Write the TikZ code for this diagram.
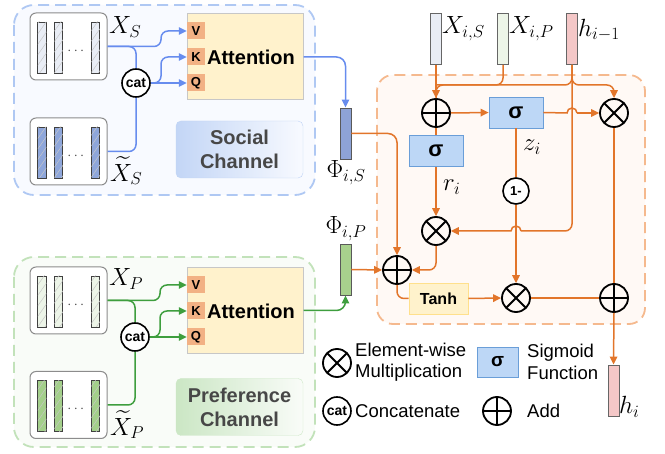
\documentclass[tikz,border=0pt]{standalone}
\usepackage{amsmath}
\usepackage{fontspec}
\setsansfont{Liberation Sans}
\usetikzlibrary{positioning,arrows.meta,calc,patterns.meta}

\definecolor{socdash}{HTML}{AFC8F3}
\definecolor{socbg}{HTML}{F8FAFF}
\definecolor{prefdash}{HTML}{C2E2BA}
\definecolor{prefbg}{HTML}{F9FCF8}
\definecolor{grudash}{HTML}{F5B98E}
\definecolor{grubg}{HTML}{FFF9F5}
\definecolor{socln}{HTML}{678CEE}
\definecolor{prefln}{HTML}{3E9E3E}
\definecolor{gruln}{HTML}{E2752A}
\definecolor{attfill}{HTML}{FFF2CC}
\definecolor{vkqfill}{HTML}{F2B184}
\definecolor{sigfill}{HTML}{BDD7F6}
\definecolor{sigdraw}{HTML}{6A9ED8}
\definecolor{tanhdraw}{HTML}{FFE08C}
\definecolor{barS}{HTML}{E9EDF5}
\definecolor{barSt}{HTML}{8EA6DA}
\definecolor{barP}{HTML}{EDF5E8}
\definecolor{barPt}{HTML}{A3CF8A}
\definecolor{phiSfill}{HTML}{8EA3D6}
\definecolor{phiPfill}{HTML}{A8D18D}
\definecolor{hfill}{HTML}{F4C7C7}

\begin{document}
\begin{tikzpicture}[x=1pt, y=-1pt,
  >={Triangle[length=8pt,width=7.5pt]},
  panel/.style={line width=1.8pt, dash pattern=on 11pt off 6pt, rounded corners=20pt},
  xbox/.style={draw=black!45, line width=1pt, rounded corners=6pt, fill=white, minimum width=77pt, minimum height=67pt},
  fbar/.style={draw=black!75, line width=0.8pt, minimum width=8.5pt, minimum height=51pt, inner sep=0pt, fill=#1,
    postaction={pattern={Lines[angle=55,distance=6pt,line width=0.5pt]}, pattern color=black!22}},
  vbar/.style={draw=black!70, line width=0.9pt, minimum width=11pt, minimum height=51pt, inner sep=0pt, fill=#1},
  dots/.style={font=\fontsize{14}{14}\selectfont, text=black!70, inner sep=0pt},
  mathlbl/.style={font=\fontsize{26}{30}\selectfont, inner sep=0pt},
  attbox/.style={draw=black!22, line width=1pt, fill=attfill, minimum width=116pt, minimum height=86pt},
  atttext/.style={font=\sffamily\bfseries\fontsize{20}{20}\selectfont, inner sep=0pt},
  vkq/.style={fill=vkqfill, minimum width=18pt, minimum height=17pt, inner sep=0pt, font=\sffamily\bfseries\fontsize{13}{13}\selectfont},
  catnode/.style={circle, draw, fill=white, line width=1.6pt, minimum size=28pt, inner sep=0pt, font=\sffamily\bfseries\fontsize{14}{14}\selectfont},
  chan/.style={rounded corners=5pt, minimum width=127pt, minimum height=57pt, align=center, text=black!72,
    font=\sffamily\bfseries\fontsize{20}{24}\selectfont},
  sline/.style={draw=socln, line width=1.5pt, rounded corners=7pt},
  pline/.style={draw=prefln, line width=1.5pt, rounded corners=7pt},
  gline/.style={draw=gruln, line width=1.5pt, rounded corners=7pt},
  opplus/.style={circle, draw, line width=1.8pt, minimum size=28pt, inner sep=0pt,
    path picture={\draw[line width=1.8pt] (path picture bounding box.north) -- (path picture bounding box.south)
      (path picture bounding box.west) -- (path picture bounding box.east);}},
  opmult/.style={circle, draw, line width=1.8pt, minimum size=28pt, inner sep=0pt,
    path picture={\draw[line width=1.8pt] (path picture bounding box.north west) -- (path picture bounding box.south east)
      (path picture bounding box.north east) -- (path picture bounding box.south west);}},
  onenode/.style={circle, draw, fill=white, line width=1.6pt, minimum size=26pt, inner sep=0pt, font=\sffamily\bfseries\fontsize{13}{13}\selectfont},
  sigbox/.style={draw=sigdraw, fill=sigfill, line width=0.8pt, minimum width=54pt, minimum height=31pt, inner sep=0pt,
    font=\sffamily\bfseries\fontsize{22}{22}\selectfont},
  tanhbox/.style={draw=tanhdraw, fill=attfill, line width=0.8pt, minimum width=59pt, minimum height=31pt, inner sep=0pt,
    font=\sffamily\bfseries\fontsize{16}{16}\selectfont},
  legtext/.style={anchor=west, align=left, inner sep=0pt, font=\sffamily\fontsize{18.5}{21.5}\selectfont}
]
\useasboundingbox (0,0) rectangle (665,454);

% social channel
\draw[panel, draw=socdash, fill=socbg] (14,5) rectangle (315,195);
\node[xbox] (xS) at (68.5,46.5) {};
\node[xbox] (xtS) at (68.5,151.5) {};
\foreach \x/\k in {42/1,58.5/2,95.5/3} {
  \node[fbar=barS] (xSb\k) at (\x,47.5) {};
  \node[fbar=barSt] (xtSb\k) at (\x,152.5) {};
}
\node[dots] (xSd) at (77,51) {$\cdots$};
\node[dots] (xtSd) at (77,156) {$\cdots$};
\node[mathlbl, anchor=west] (xSl) at (109,27) {$X_S$};
\node[mathlbl, anchor=west] (xtSl) at (110,171) {$\widetilde{X}_S$};
\node[catnode] (catS) at (136,83) {cat};
\node[attbox] (attS) at (245,57) {};
\node[atttext] (attSt) at (251,57) {Attention};
\node[vkq] (vS) at (196,31) {V};
\node[vkq] (kS) at (196,57) {K};
\node[vkq] (qS) at (196,83) {Q};
\node[chan, draw=socdash!80, left color=socdash!75, right color=socbg] (chS) at (239.5,149.5) {Social\\Channel};

\draw[sline] (xS.east) -| (catS.north);
\draw[sline, ->] (xS.east) -- (161,46.5) |- (vS.west);
\draw[sline, ->] (catS.east) -- (qS.west);
\draw[sline, ->] (catS.east) -- (161,83) |- (kS.west);
\draw[sline] (xtS.east) -| (catS.south);

% preference channel
\draw[panel, draw=prefdash, fill=prefbg] (14,257) rectangle (315,447);
\node[xbox] (xP) at (68.5,300.5) {};
\node[xbox] (xtP) at (68.5,405) {};
\foreach \x/\k in {42/1,58.5/2,95.5/3} {
  \node[fbar=barP] (xPb\k) at (\x,301.5) {};
  \node[fbar=barPt] (xtPb\k) at (\x,406) {};
}
\node[dots] (xPd) at (77,305) {$\cdots$};
\node[dots] (xtPd) at (77,409.5) {$\cdots$};
\node[mathlbl, anchor=west] (xPl) at (109,279) {$X_P$};
\node[mathlbl, anchor=west] (xtPl) at (110,425) {$\widetilde{X}_P$};
\node[catnode] (catP) at (135,337) {cat};
\node[attbox] (attP) at (245,310.5) {};
\node[atttext] (attPt) at (251,311) {Attention};
\node[vkq] (vP) at (196,285) {V};
\node[vkq] (kP) at (196,311) {K};
\node[vkq] (qP) at (196,337) {Q};
\node[chan, draw=prefdash!80, left color=prefdash!85, right color=prefbg] (chP) at (239.5,407) {Preference\\Channel};

\draw[pline] (xP.east) -| (catP.north);
\draw[pline, ->] (xP.east) -- (160,300.5) |- (vP.west);
\draw[pline, ->] (catP.east) -- (qP.west);
\draw[pline, ->] (catP.east) -- (160,337) |- (kP.west);
\draw[pline] (xtP.east) -| (catP.south);

% channel outputs
\node[vbar=phiSfill, draw=black!65] (phiS) at (345.5,133.5) {};
\node[vbar=phiPfill, draw=black!65] (phiP) at (345.5,269.5) {};
\node[mathlbl] (phiSl) at (346,173) {$\Phi_{i,S}$};
\node[mathlbl] (phiPl) at (346,229) {$\Phi_{i,P}$};
\draw[sline, ->, rounded corners=9pt] (attS.east) -| (phiS.north);
\draw[pline, ->, rounded corners=9pt] (attP.east) -| (phiP.south);

% gated unit
\draw[panel, draw=grudash, fill=grubg, rounded corners=16pt] (377,75) rectangle (645,324);
\node[vbar=barS, draw=black!60] (xiS) at (436,39) {};
\node[vbar=barP, draw=black!60] (xiP) at (503,39) {};
\node[vbar=hfill, draw=black!60] (hprev) at (572,39) {};
\node[mathlbl, anchor=west] (xiSl) at (442,29) {$X_{i,S}$};
\node[mathlbl, anchor=west] (xiPl) at (509,29) {$X_{i,P}$};
\node[mathlbl, anchor=west] (hprevl) at (578,30) {$h_{i-1}$};

\node[opplus] (plus1) at (436,113) {};
\node[sigbox] (sigZ) at (516,112.5) {σ};
\node[opmult] (mult1) at (614,113) {};
\node[sigbox] (sigR) at (436,151) {σ};
\node[onenode] (one) at (516,191) {1-};
\node[opmult] (multR) at (436,231) {};
\node[opplus] (plus2) at (397,270) {};
\node[tanhbox] (tanh) at (438.5,298.5) {Tanh};
\node[opmult] (multB) at (516,298) {};
\node[opplus] (plusO) at (614,298) {};
\node[vbar=hfill, draw=black!60] (hi) at (613.5,390.5) {};
\node[mathlbl, anchor=west] (hil) at (619,407) {$h_i$};
\node[mathlbl, anchor=west] (ril) at (443,187) {$r_i$};
\node[mathlbl, anchor=west] (zil) at (523,147) {$z_i$};
\coordinate (jL) at (436,85);
\coordinate (jR) at (614,85);
\coordinate (hopZ) at (567,113);
\coordinate (hopR) at (521,231);

\draw[gline, ->] (xiS.south) -- (plus1.north);
\draw[gline] (xiP.south) |- (jL) -- (plus1.north);
\draw[gline] (hprev.south) |- (jL);
\draw[gline, ->] (hprev.south) |- (jR) -- (mult1.north);
\draw[gline] (hprev.south) |- (hopR);
\draw[gline, sharp corners, ->] (hopR) arc[start angle=0, end angle=-180, radius=5] -- (multR.east);
\draw[gline, ->] (plus1.east) -- (sigZ.west);
\draw[gline, sharp corners] (sigZ.east) -- (hopZ) arc[start angle=180, end angle=360, radius=5];
\draw[gline, ->] ($(hopZ)+(10,0)$) -- (mult1.west);
\draw[gline] (plus1.south) -- (sigR.north);
\draw[gline, ->] (sigR.south) -- (multR.north);
\draw[gline] (sigZ.south) -- (one.north);
\draw[gline, ->] (one.south) -- (multB.north);
\draw[gline, ->] (multR.south) |- (plus2.east);
\draw[gline, ->, rounded corners=9pt] (phiS.east) -| (plus2.north);
\draw[gline, ->] (phiP.east) -- (plus2.west);
\draw[gline] (plus2.south) |- (tanh.west);
\draw[gline, ->] (tanh.east) -- (multB.west);
\draw[gline] (multB.east) -- (plusO.west);
\draw[gline] (mult1.south) -- (plusO.north);
\draw[gline, ->] (plusO.south) -- (hi.north);

% legend
\node[opmult] (legMult) at (337,363) {};
\node[legtext] (legMultt) at (355,362) {Element-wise\\Multiplication};
\node[sigbox, minimum width=41pt, minimum height=30pt, font=\sffamily\bfseries\fontsize{19}{19}\selectfont] (legSig) at (497.5,362) {σ};
\node[legtext] (legSigt) at (527,362) {Sigmoid\\Function};
\node[catnode] (legCat) at (337,411) {cat};
\node[legtext] (legCatt) at (355,411) {Concatenate};
\node[opplus] (legAdd) at (497,411) {};
\node[legtext] (legAddt) at (527,411) {Add};
\end{tikzpicture}
\end{document}
